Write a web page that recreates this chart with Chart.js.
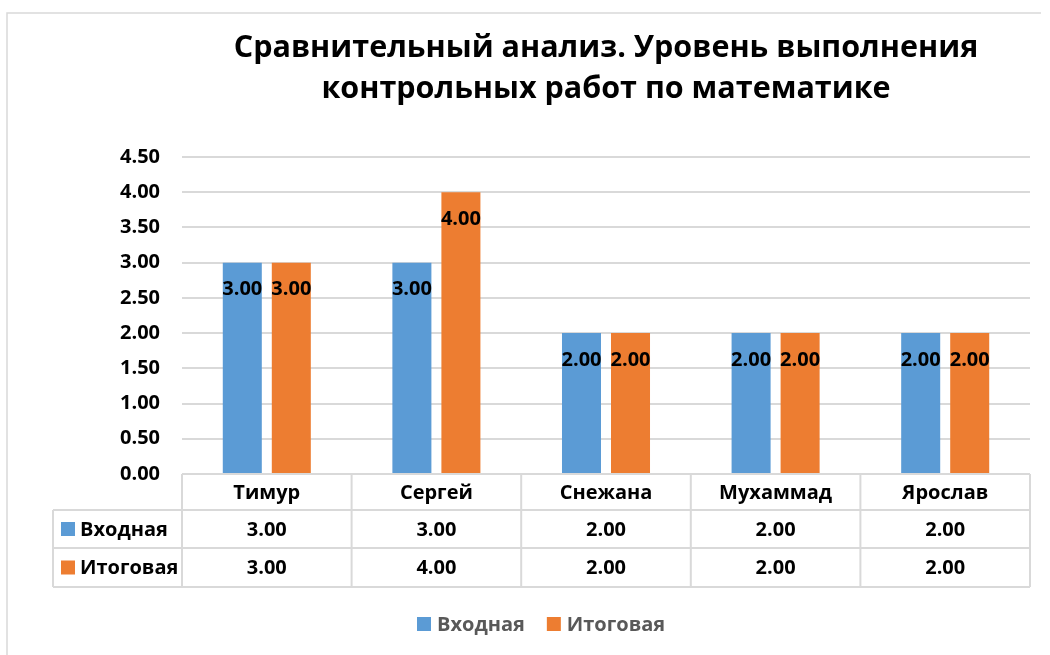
<!DOCTYPE html>
<html>
<head>
<meta charset="utf-8">
<script src="https://cdn.jsdelivr.net/npm/chart.js@4"></script>
<style>
  html, body { margin: 0; padding: 0; background: #fff; }
  #wrap { width: 1050px; height: 655px; }
</style>
</head>
<body>
<div id="wrap"><canvas id="chart" width="1050" height="655"></canvas></div>
<script>
// Chart data
const students = ['Тимур', 'Сергей', 'Снежана', 'Мухаммад', 'Ярослав'];
const entryScores = [3, 3, 2, 2, 2];
const finalScores = [3, 4, 2, 2, 2];
const seriesNames = ['Входная', 'Итоговая'];
const seriesColors = ['#5b9bd5', '#ed7d31'];

const FONT = '"Open Sans", "Noto Sans", sans-serif';
const GRID = '#d9d9d9';
const TEXT_SIZE = 20;

/**
 * Draws the outer frame, the value labels, the data table under the axis
 * and the legend at the bottom.
 */
const tablePlugin = {
    id: 'dataTable',
    beforeDraw(chart) {
        const ctx = chart.ctx;
        ctx.save();
        ctx.strokeStyle = GRID;
        ctx.lineWidth = 1.5;
        ctx.beginPath();
        ctx.moveTo(7, 660);
        ctx.lineTo(7, 13);
        ctx.lineTo(1041, 13);
        ctx.stroke();
        ctx.restore();
    },
    afterDatasetsDraw(chart) {
        const ctx = chart.ctx;
        ctx.save();
        ctx.font = 'bold ' + TEXT_SIZE + 'px ' + FONT;
        ctx.fillStyle = '#000';
        ctx.textAlign = 'center';
        ctx.textBaseline = 'middle';
        chart.data.datasets.forEach((ds, i) => {
            chart.getDatasetMeta(i).data.forEach((bar, j) => {
                ctx.fillText(ds.data[j].toFixed(2), bar.x, bar.y + 27);
            });
        });
        ctx.restore();
    },
    afterDraw(chart) {
        const ctx = chart.ctx;
        const area = chart.chartArea;
        const xs = chart.scales.x;
        const n = students.length;
        const colW = (area.right - area.left) / n;
        const top = area.bottom;
        const rows = [top, top + 36, top + 74, top + 113];
        const leftX = 53;

        ctx.save();
        ctx.strokeStyle = GRID;
        ctx.lineWidth = 2;
        ctx.beginPath();
        // horizontal lines
        ctx.moveTo(area.left, rows[0]); ctx.lineTo(area.right, rows[0]);
        for (let r = 1; r < rows.length; r++) {
            ctx.moveTo(leftX, rows[r]); ctx.lineTo(area.right, rows[r]);
        }
        // vertical lines
        ctx.moveTo(leftX, rows[1]); ctx.lineTo(leftX, rows[3]);
        for (let c = 0; c <= n; c++) {
            const x = area.left + c * colW;
            ctx.moveTo(x, rows[0]); ctx.lineTo(x, rows[3]);
        }
        ctx.stroke();

        // header + values
        ctx.fillStyle = '#000';
        ctx.font = 'bold ' + TEXT_SIZE + 'px ' + FONT;
        ctx.textAlign = 'center';
        ctx.textBaseline = 'middle';
        students.forEach((name, j) => {
            const cx = xs.getPixelForValue(j);
            ctx.fillText(name, cx, (rows[0] + rows[1]) / 2 + 1);
            chart.data.datasets.forEach((ds, i) => {
                ctx.fillText(ds.data[j].toFixed(2), cx, (rows[i + 1] + rows[i + 2]) / 2 + 1);
            });
        });

        // row titles with legend keys
        ctx.textAlign = 'left';
        chart.data.datasets.forEach((ds, i) => {
            const cy = (rows[i + 1] + rows[i + 2]) / 2;
            ctx.fillStyle = ds.backgroundColor;
            ctx.fillRect(61, cy - 7, 14, 14);
            ctx.fillStyle = '#000';
            ctx.fillText(ds.label, 80, cy + 1);
        });

        // legend
        const legY = 624;
        let lx = 417;
        chart.data.datasets.forEach((ds) => {
            ctx.fillStyle = ds.backgroundColor;
            ctx.fillRect(lx, legY - 7, 14, 14);
            ctx.fillStyle = '#595959';
            ctx.fillText(ds.label, lx + 20, legY + 1);
            lx += 20 + ctx.measureText(ds.label).width + 22;
        });
        ctx.restore();
    }
};

const ctx = document.getElementById('chart').getContext('2d');
new Chart(ctx, {
    type: 'bar',
    data: {
        labels: students,
        datasets: [
            { label: seriesNames[0], data: entryScores, backgroundColor: seriesColors[0] },
            { label: seriesNames[1], data: finalScores, backgroundColor: seriesColors[1] }
        ]
    },
    options: {
        responsive: false,
        animation: false,
        devicePixelRatio: 1,
        categoryPercentage: 0.578,
        barPercentage: 0.796,
        layout: { padding: { left: 0, right: 20, top: 0, bottom: 0 } },
        plugins: {
            legend: { display: false },
            tooltip: { enabled: false },
            title: {
                display: true,
                fullSize: false,
                text: ['Сравнительный анализ. Уровень выполнения', 'контрольных работ по математике'],
                color: '#000',
                font: { family: FONT, size: 30.5, weight: 'bold', lineHeight: 41 / 30.5 },
                padding: { top: 28, bottom: 47 }
            }
        },
        scales: {
            x: {
                grid: { display: false, drawTicks: false },
                border: { display: false },
                ticks: { display: false },
                afterFit: function(scale) { scale.height = 181; }
            },
            y: {
                min: 0,
                max: 4.5,
                ticks: {
                    stepSize: 0.5,
                    padding: 22,
                    color: '#000',
                    font: { family: FONT, size: TEXT_SIZE, weight: 'bold' },
                    callback: function(value) { return value.toFixed(2); }
                },
                grid: { color: GRID, lineWidth: 2, drawTicks: false },
                border: { display: false },
                afterFit: function(scale) { scale.width = 182; }
            }
        }
    },
    plugins: [tablePlugin]
});
</script>
</body>
</html>
